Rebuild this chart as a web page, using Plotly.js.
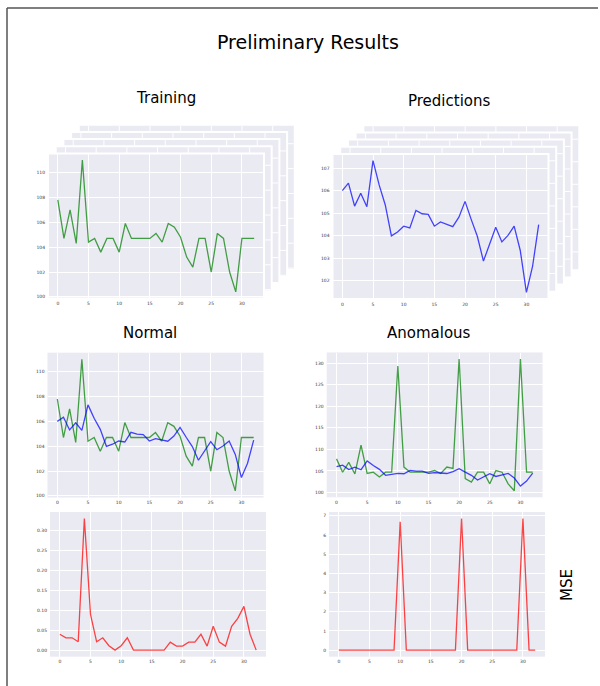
<!DOCTYPE html>
<html><head><meta charset="utf-8">
<script src="https://cdn.plot.ly/plotly-3.0.1.min.js"></script>
<style>html,body{margin:0;padding:0;background:#fff}</style>
</head><body><div id="chart" style="width:600px;height:686px"></div>
<script>
const timeSteps = [0,1,2,3,4,5,6,7,8,9,10,11,12,13,14,15,16,17,18,19,20,21,22,23,24,25,26,27,28,29,30,31,32];
const trainingValues = [107.8,104.7,107.0,104.3,111.0,104.4,104.7,103.6,104.7,104.7,103.6,105.9,104.7,104.7,104.7,104.7,105.1,104.4,105.9,105.6,104.8,103.2,102.4,104.7,104.7,102.0,105.1,104.7,102.0,100.4,104.7,104.7,104.7];
const predictionValues = [106.0,106.33,105.31,105.88,105.28,107.33,106.25,105.36,103.99,104.16,104.42,104.34,105.12,104.97,104.94,104.42,104.61,104.52,104.40,104.82,105.52,104.72,103.97,102.87,103.61,104.37,103.72,104.01,104.42,103.34,101.48,102.63,104.49];
const anomalousValues = [107.8,104.7,107.0,104.3,111.0,104.4,104.7,103.6,104.7,104.7,129.4,105.9,104.7,104.7,104.7,104.7,105.1,104.4,105.9,105.6,131.0,103.2,102.4,104.7,104.7,102.0,105.1,104.7,102.0,100.4,131.0,104.7,104.7];
const mseNormal = [0.04,0.031,0.031,0.021,0.331,0.09,0.021,0.031,0.011,0.0,0.011,0.031,0,0,0,0,0,0,0.02,0.01,0.01,0.02,0.02,0.04,0.01,0.06,0.02,0.01,0.06,0.08,0.11,0.04,0.0];
const mseAnomalous = [0,0,0,0,0,0,0,0,0,0,6.69,0,0,0,0,0,0,0,0,0,6.86,0,0,0,0,0,0,0,0,0,6.86,0,0];
const xTickVals = [0,5,10,15,20,25,30];

const W = 600, H = 686;
const GREEN = 'rgba(0,128,0,0.72)', BLUE = 'rgba(0,0,255,0.72)', RED = 'rgba(255,0,0,0.72)';
const BG = '#EAEAF2';
const FONT = 'DejaVu Sans';

function pad(arrs) {
  const all = [].concat(...arrs);
  const mn = Math.min(...all), mx = Math.max(...all);
  const p = 0.05 * (mx - mn);
  return [mn - p, mx + p];
}
const xRange = pad([timeSteps]);
function px(x) { return x / W; }
function py(y) { return 1 - y / H; }

// subplot boxes in pixels [left, top, right, bottom]
const boxes = {
  1: [48, 153.5, 264, 298.5],
  2: [332.5, 154, 548.5, 299],
  3: [47.5, 352.7, 263.5, 497.5],
  4: [326.7, 352.5, 542.5, 497.3],
  5: [50, 512, 266, 656.7],
  6: [329, 512, 545, 656.7]
};
const yRanges = {
  1: pad([trainingValues]),
  2: pad([predictionValues]),
  3: pad([trainingValues, predictionValues]),
  4: pad([anomalousValues, predictionValues]),
  5: pad([mseNormal]),
  6: pad([mseAnomalous])
};
const yDticks = {1: 2, 2: 1, 3: 2, 4: 5, 5: 0.05, 6: 1};
const yFormats = {1: 'd', 2: 'd', 3: 'd', 4: 'd', 5: '.2f', 6: 'd'};

const layout = {
  width: W, height: H,
  margin: {l: 0, r: 0, t: 0, b: 0},
  paper_bgcolor: '#fff', plot_bgcolor: BG,
  showlegend: false,
  font: {family: FONT, color: '#000'},
  shapes: [], annotations: []
};

for (let i = 1; i <= 6; i++) {
  const b = boxes[i];
  const xs = i === 1 ? '' : String(i);
  const tf = {family: FONT, size: 4.5, color: '#3a3a3a'};
  layout['xaxis' + xs] = {
    domain: [px(b[0]), px(b[2])], range: xRange, anchor: 'y' + xs,
    tickvals: xTickVals, showgrid: true, gridcolor: '#fff', gridwidth: 1,
    zeroline: false, showline: false, ticks: '', tickfont: tf, fixedrange: true,
    ticklabelstandoff: 1
  };
  layout['yaxis' + xs] = {
    domain: [py(b[3]), py(b[1])], range: yRanges[i], anchor: 'x' + xs,
    tick0: 0, dtick: yDticks[i], tickformat: yFormats[i],
    showgrid: true, gridcolor: '#fff', gridwidth: 1,
    zeroline: false, showline: false, ticks: '', tickfont: tf, fixedrange: true,
    ticklabelstandoff: 2
  };
}

// stacked frames behind Training (1) and Predictions (2)
const DX = 7.7, DY = -7.2;
function addStack(i, yTickVals) {
  const b = boxes[i];
  const yr = yRanges[i];
  for (let k = 4; k >= 0; k--) {
    const ox = DX * k, oy = DY * k;
    const L = b[0] + ox, T = b[1] + oy, R = b[2] + ox, B = b[3] + oy;
    layout.shapes.push({type: 'rect', xref: 'paper', yref: 'paper', layer: 'below',
      x0: px(L), x1: px(R), y0: py(B), y1: py(T), fillcolor: BG, line: {color: '#fff', width: 2}});
    if (k > 0) {
      xTickVals.forEach(v => {
        const gx = b[0] + (v - xRange[0]) / (xRange[1] - xRange[0]) * (b[2] - b[0]) + ox;
        layout.shapes.push({type: 'line', xref: 'paper', yref: 'paper', layer: 'below',
          x0: px(gx), x1: px(gx), y0: py(B - 1), y1: py(T + 1), line: {color: '#fff', width: 1}});
      });
      yTickVals.forEach(v => {
        const gy = b[3] - (v - yr[0]) / (yr[1] - yr[0]) * (b[3] - b[1]) + oy;
        layout.shapes.push({type: 'line', xref: 'paper', yref: 'paper', layer: 'below',
          x0: px(L + 1), x1: px(R - 1), y0: py(gy), y1: py(gy), line: {color: '#fff', width: 1}});
      });
    }
  }
}
addStack(1, [100, 102, 104, 106, 108, 110]);
addStack(2, [102, 103, 104, 105, 106, 107]);

// outer border (screenshot frame)
layout.shapes.push({type: 'line', xref: 'paper', yref: 'paper', x0: px(7), x1: px(7), y0: py(686), y1: py(8), line: {color: '#555', width: 1.5}});
layout.shapes.push({type: 'line', xref: 'paper', yref: 'paper', x0: px(7), x1: px(598), y0: py(8), y1: py(8), line: {color: '#555', width: 1.5}});

function ann(text, x, y, size, angle) {
  layout.annotations.push({text, x: px(x), y: py(y), xref: 'paper', yref: 'paper',
    xanchor: 'center', yanchor: 'middle', showarrow: false, textangle: angle || 0,
    font: {family: FONT, size, color: '#000'}});
}
ann('Preliminary Results', 307.5, 42, 19);
ann('Training', 166, 98, 15);
ann('Predictions', 449.5, 101, 15);
ann('Normal', 150, 333, 15);
ann('Anomalous', 429, 333, 15);
ann('MSE', 567, 585, 15, -90);

function line(x, y, color, xa, ya) {
  return {x, y, type: 'scatter', mode: 'lines', line: {color, width: 1.3}, xaxis: xa, yaxis: ya, hoverinfo: 'skip'};
}
const data = [
  line(timeSteps, trainingValues, GREEN, 'x', 'y'),
  line(timeSteps, predictionValues, BLUE, 'x2', 'y2'),
  line(timeSteps, trainingValues, GREEN, 'x3', 'y3'),
  line(timeSteps, predictionValues, BLUE, 'x3', 'y3'),
  line(timeSteps, anomalousValues, GREEN, 'x4', 'y4'),
  line(timeSteps, predictionValues, BLUE, 'x4', 'y4'),
  line(timeSteps, mseNormal, RED, 'x5', 'y5'),
  line(timeSteps, mseAnomalous, RED, 'x6', 'y6')
];

Plotly.newPlot('chart', data, layout, {staticPlot: true, displayModeBar: false});
</script>
</body></html>
